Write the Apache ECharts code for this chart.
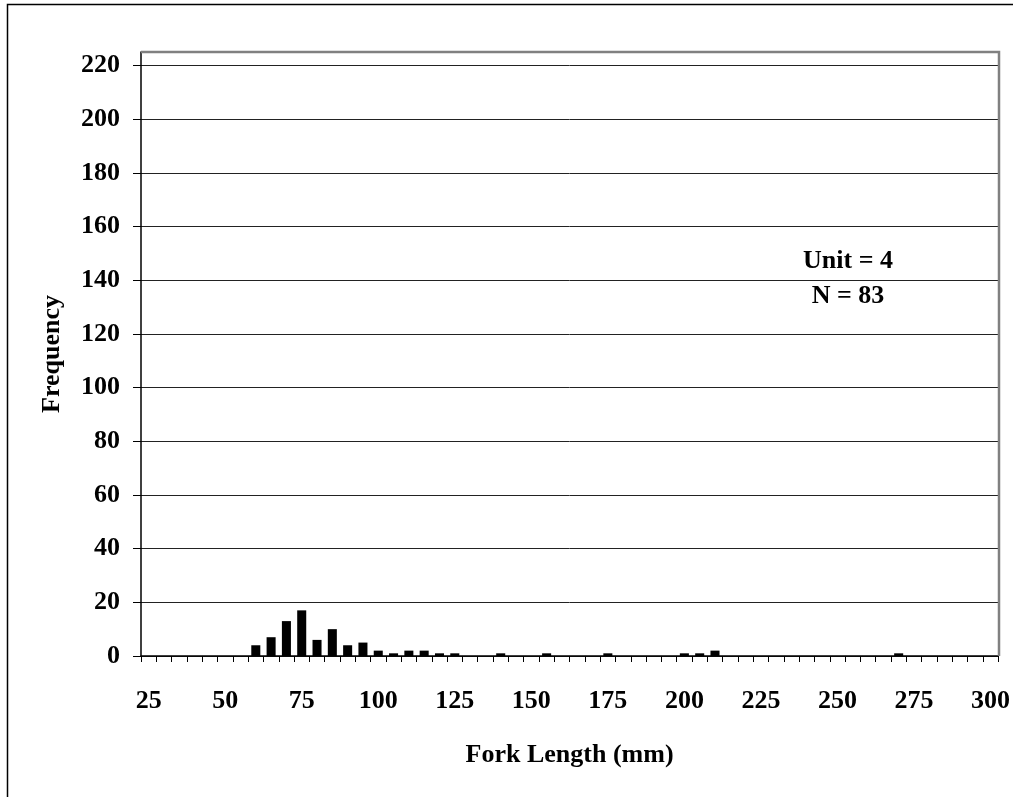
<!DOCTYPE html>
<html>
<head>
<meta charset="utf-8">
<script src="https://cdn.jsdelivr.net/npm/echarts@6/dist/echarts.min.js"></script>
<style>
html,body{margin:0;padding:0;background:#fff;}
#chart{width:1013px;height:797px;}
</style>
</head>
<body>
<div id="chart"></div>
<script>
// Fork length categories (mm), 25..300 step 5
const lengths = ['25','30','35','40','45','50','55','60','65','70','75','80','85','90','95','100','105','110','115','120','125','130','135','140','145','150','155','160','165','170','175','180','185','190','195','200','205','210','215','220','225','230','235','240','245','250','255','260','265','270','275','280','285','290','295','300'];
const frequency = [0,0,0,0,0,0,0,4,7,13,17,6,10,4,5,2,1,2,2,1,1,0,0,1,0,0,1,0,0,0,1,0,0,0,0,1,1,2,0,0,0,0,0,0,0,0,0,0,0,1,0,0,0,0,0,0];
const yTicks = [0,20,40,60,80,100,120,140,160,180,200,220];
const noteLines = ['Unit = 4', 'N = 83'];

const FONT = 'Liberation Serif';
const chart = echarts.init(document.getElementById('chart'), null, {renderer: 'canvas'});
chart.setOption({
  animation: false,
  backgroundColor: '#fff',
  grid: {left: 141, right: 14, top: 52, bottom: 141, containLabel: false},
  xAxis: {
    type: 'category',
    data: lengths,
    boundaryGap: true,
    name: 'Fork Length (mm)',
    nameLocation: 'middle',
    nameGap: 86,
    nameTextStyle: {fontFamily: FONT, fontWeight: 'bold', fontSize: 26, color: '#000'},
    axisLine: {show: true, lineStyle: {color: '#000', width: 1.5}},
    axisTick: {show: true, interval: 0, length: 6, inside: false, lineStyle: {color: '#000', width: 1}},
    axisLabel: {interval: 4, margin: 32, fontFamily: FONT, fontWeight: 'bold', fontSize: 26, color: '#000'},
    splitLine: {show: false}
  },
  yAxis: {
    type: 'value',
    min: 0,
    max: 225,
    interval: 20,
    name: 'Frequency',
    nameLocation: 'middle',
    nameGap: 76,
    nameRotate: 90,
    nameTextStyle: {fontFamily: FONT, fontWeight: 'bold', fontSize: 26, color: '#000'},
    axisLine: {show: true, lineStyle: {color: '#000', width: 1.5}},
    axisTick: {show: true, length: 8, customValues: yTicks, lineStyle: {color: '#000', width: 1}},
    axisLabel: {
      customValues: yTicks,
      margin: 21,
      padding: [4, 0, 0, 0],
      fontFamily: FONT, fontWeight: 'bold', fontSize: 26, color: '#000',
      formatter: v => (v % 20 === 0 ? String(v) : '')
    },
    splitLine: {show: true, lineStyle: {color: '#222', width: 1}}
  },
  series: [{
    type: 'bar',
    data: frequency,
    barCategoryGap: '41%',
    itemStyle: {color: '#000'},
    silent: true
  }],
  graphic: [
    {type: 'rect', z: 100, silent: true, shape: {x: 7.5, y: 4.5, width: 1200, height: 1000},
     style: {fill: 'none', stroke: '#000', lineWidth: 1.5}},
    {type: 'polyline', z: 100, silent: true, shape: {points: [[141, 52], [999, 52], [999, 656]]},
     style: {fill: 'none', stroke: '#808080', lineWidth: 2.5}},
    {type: 'text', z: 100, silent: true, x: 848, y: 261,
     style: {text: noteLines[0], fontFamily: FONT, fontWeight: 'bold', fontSize: 26, fill: '#000', align: 'center', verticalAlign: 'middle'}},
    {type: 'text', z: 100, silent: true, x: 848, y: 296,
     style: {text: noteLines[1], fontFamily: FONT, fontWeight: 'bold', fontSize: 26, fill: '#000', align: 'center', verticalAlign: 'middle'}}
  ]
});
</script>
</body>
</html>
